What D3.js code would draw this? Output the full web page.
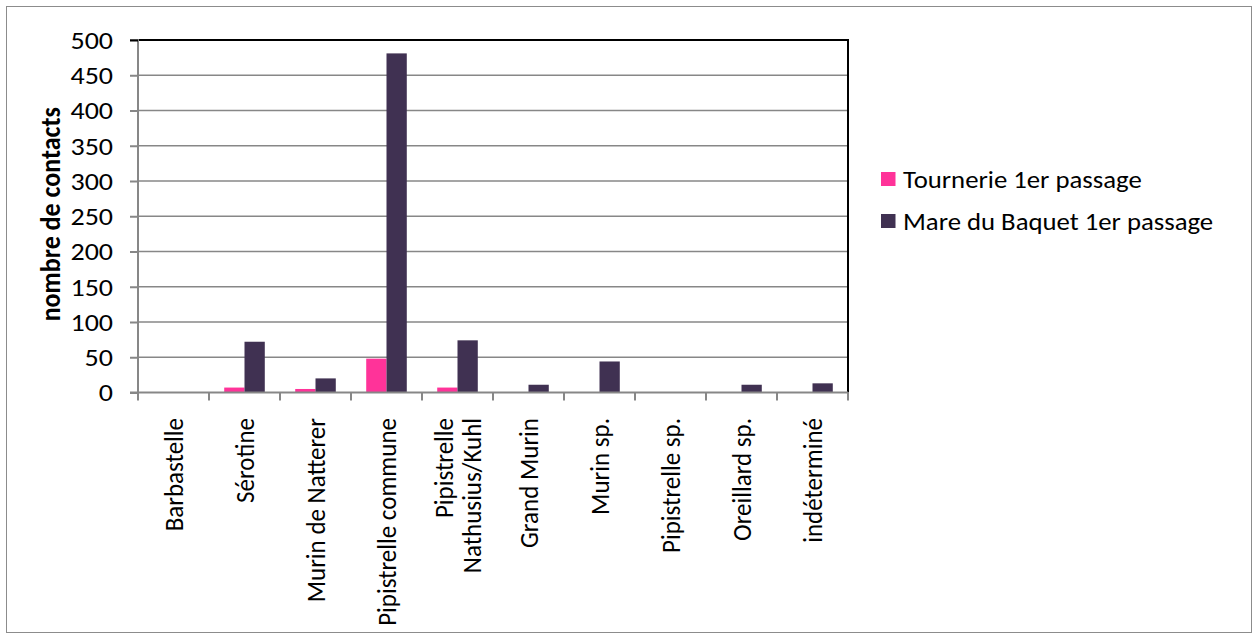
<!DOCTYPE html>
<html>
<head>
<meta charset="utf-8">
<script src="https://cdn.jsdelivr.net/npm/d3@7"></script>
<style>
  html, body { margin: 0; padding: 0; background: #fff; }
  svg text { font-family: Carlito, Calibri, Lato, "Open Sans", sans-serif; fill: #000; }
</style>
</head>
<body>
<svg id="chart" width="1258" height="639"></svg>
<script>
// Bat contacts per species, first survey pass at two sites
const categories = [
  "Barbastelle", "Sérotine", "Murin de Natterer", "Pipistrelle commune",
  "Pipistrelle Nathusius/Kuhl", "Grand Murin", "Murin sp.", "Pipistrelle sp.",
  "Oreillard sp.", "indéterminé"
];
const tournerie = [0, 7, 5, 48, 7, 0, 0, 0, 0, 0];
const mareBaquet = [0, 72, 20, 481, 74, 11, 44, 0, 11, 13];
const seriesNames = ["Tournerie 1er passage", "Mare du Baquet 1er passage"];
const seriesColors = ["#FF3399", "#403152"];
const yTicks = [0, 50, 100, 150, 200, 250, 300, 350, 400, 450, 500];
const yTitle = "nombre de contacts";

const svg = d3.select("#chart");
const plot = { left: 138, right: 848, top: 40, bottom: 392.5 };
const fontSize = 25;
const stretch = 1.1;   // glyphs are drawn slightly wide

// outer chart frame
svg.append("rect")
  .attr("x", 6.5).attr("y", 6.5).attr("width", 1245).attr("height", 626)
  .attr("fill", "#fff").attr("stroke", "#8c8c8c").attr("stroke-width", 1);

const x = d3.scaleBand().domain(categories).range([plot.left, plot.right]).padding(0);
const y = d3.scaleLinear().domain([0, 500]).range([plot.bottom, plot.top]);
// two bars per category with 150% gap width
const barW = x.bandwidth() / 3.5;
const xs = d3.scaleBand().domain([0, 1]).range([0, 2 * barW]);

// horizontal gridlines
svg.append("g")
  .selectAll("line")
  .data(yTicks.filter(t => t > 0 && t < 500))
  .join("line")
  .attr("x1", plot.left).attr("x2", plot.right)
  .attr("y1", d => y(d)).attr("y2", d => y(d))
  .attr("stroke", "#878787").attr("stroke-width", 1.5);

// plot frame (top and right)
svg.append("path")
  .attr("d", `M${plot.left},${plot.top}H${plot.right}V${plot.bottom}`)
  .attr("fill", "none").attr("stroke", "#000").attr("stroke-width", 2);

// bars
const series = [tournerie, mareBaquet];
series.forEach((vals, si) => {
  svg.append("g")
    .selectAll("rect")
    .data(vals.map((v, i) => ({ cat: categories[i], v })))
    .join("rect")
    .attr("x", d => x(d.cat) + (x.bandwidth() - 2 * barW) / 2 + xs(si))
    .attr("y", d => y(d.v))
    .attr("width", barW)
    .attr("height", d => y(0) - y(d.v))
    .attr("fill", seriesColors[si]);
});

// y axis
const yAxis = d3.axisLeft(y).tickValues(yTicks).tickSize(8).tickPadding(17).tickFormat(d3.format("d"));
const gy = svg.append("g").attr("transform", `translate(${plot.left},0)`).call(yAxis);
gy.attr("font-family", null).attr("font-size", null);
gy.select(".domain").attr("stroke", "#878787").attr("stroke-width", 2)
  .attr("d", `M-8,${plot.top}H0V${plot.bottom}H-8`);
gy.selectAll(".tick line").attr("stroke", "#878787").attr("stroke-width", 2);
gy.select(".tick:last-of-type line").attr("stroke", "#000");
gy.selectAll(".tick text")
  .attr("font-size", fontSize).attr("fill", "#000")
  .attr("x", null).attr("dy", null)
  .attr("dominant-baseline", "central")
  .attr("transform", `translate(-25,0) scale(1.12,1)`);

// x axis baseline and category boundary ticks
const bounds = categories.map(c => x(c)).concat([plot.right]);
svg.append("line")
  .attr("x1", plot.left).attr("x2", plot.right)
  .attr("y1", plot.bottom).attr("y2", plot.bottom)
  .attr("stroke", "#878787").attr("stroke-width", 2);
svg.append("g").selectAll("line").data(bounds).join("line")
  .attr("x1", d => d).attr("x2", d => d)
  .attr("y1", plot.bottom).attr("y2", plot.bottom + 8)
  .attr("stroke", "#878787").attr("stroke-width", 2);

// rotated category labels, wrapped when longer than the available height
const labelTop = 418;
const maxLen = 215;
const lineGap = 28;
categories.forEach(c => {
  const cx = x(c) + x.bandwidth() / 2;
  const t = svg.append("text")
    .attr("font-size", fontSize)
    .text(c);
  let lines = [c];
  if (t.node().getComputedTextLength() > maxLen) {
    const k = c.indexOf(" ");
    lines = [c.slice(0, k), c.slice(k + 1)];
  }
  t.remove();
  lines.forEach((ln, i) => {
    const off = (i - (lines.length - 1) / 2) * lineGap;
    svg.append("text")
      .attr("font-size", fontSize)
      .attr("text-anchor", "end")
      .attr("dominant-baseline", "central")
      .attr("transform", `translate(${cx + off},${labelTop}) scale(${stretch},1) rotate(-90)`)
      .text(ln);
  });
});

// y axis title
svg.append("text")
  .attr("font-size", 26)
  .attr("font-weight", "bold")
  .attr("text-anchor", "middle")
  .attr("dominant-baseline", "central")
  .attr("transform", `translate(50,${(plot.top + plot.bottom) / 2 - 2}) scale(${stretch},1) rotate(-90)`)
  .text(yTitle);

// legend
const legend = svg.append("g").attr("transform", "translate(881,0)");
const legendY = [179, 221];
seriesNames.forEach((name, i) => {
  legend.append("rect")
    .attr("x", 0).attr("y", legendY[i] - 7).attr("width", 14.5).attr("height", 14)
    .attr("fill", seriesColors[i]);
  legend.append("text")
    .attr("transform", `translate(22,${legendY[i]}) scale(1.07,1)`)
    .attr("font-size", fontSize)
    .attr("dominant-baseline", "central")
    .text(name);
});
</script>
</body>
</html>
